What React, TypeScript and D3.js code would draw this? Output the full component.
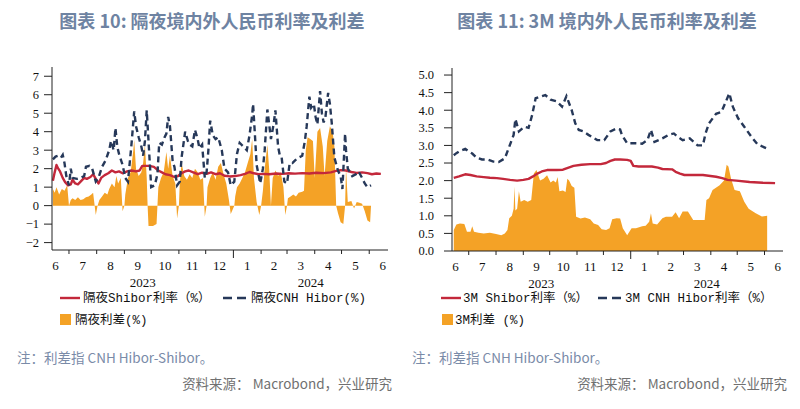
import React from 'react';
import * as d3 from 'd3';

type Pt = [string, number];

// ---------- Chart 10: overnight ----------
const onShibor: Pt[] = [
  ["2023-06-13",1.35],["2023-06-15",1.8],["2023-06-17",2.2],["2023-06-19",2.0],["2023-06-21",1.85],["2023-06-24",1.5],["2023-06-27",1.25],["2023-06-30",1.1],["2023-07-03",1.15],["2023-07-05",1.4],["2023-07-08",1.2],["2023-07-11",1.15],["2023-07-14",1.3],["2023-07-18",1.5],["2023-07-21",1.45],["2023-07-25",1.55],["2023-07-28",1.7],["2023-07-31",1.45],["2023-08-03",1.2],["2023-08-06",1.5],["2023-08-10",1.65],["2023-08-14",1.75],["2023-08-18",1.9],["2023-08-22",1.8],["2023-08-26",1.85],["2023-08-30",1.75],["2023-09-04",1.85],["2023-09-09",1.9],["2023-09-14",1.85],["2023-09-18",1.9],["2023-09-21",2.15],["2023-09-25",2.15],["2023-09-29",2.15],["2023-10-04",2.1],["2023-10-09",1.9],["2023-10-13",1.8],["2023-10-17",1.7],["2023-10-22",1.65],["2023-10-27",1.55],["2023-10-31",1.6],["2023-11-04",1.75],["2023-11-08",1.85],["2023-11-12",1.9],["2023-11-17",1.8],["2023-11-22",1.7],["2023-11-27",1.78],["2023-12-02",1.72],["2023-12-07",1.8],["2023-12-12",1.7],["2023-12-17",1.75],["2023-12-22",1.62],["2023-12-28",1.58],["2024-01-03",1.6],["2024-01-09",1.65],["2024-01-14",1.72],["2024-01-19",1.82],["2024-01-24",1.75],["2024-01-29",1.7],["2024-02-04",1.72],["2024-02-10",1.7],["2024-02-18",1.74],["2024-02-25",1.72],["2024-03-03",1.75],["2024-03-10",1.73],["2024-03-18",1.76],["2024-03-26",1.74],["2024-04-03",1.78],["2024-04-11",1.76],["2024-04-19",1.8],["2024-04-25",1.88],["2024-04-30",1.92],["2024-05-06",1.9],["2024-05-12",1.82],["2024-05-18",1.77],["2024-05-24",1.8],["2024-05-30",1.76],["2024-06-04",1.7],["2024-06-09",1.74],["2024-06-14",1.72]
];

const onHibor: Pt[] = [
  ["2023-06-13",2.5],["2023-06-16",2.65],["2023-06-19",2.7],["2023-06-22",2.6],["2023-06-24",2.75],["2023-06-26",2.3],["2023-06-28",1.6],["2023-07-01",1.1],["2023-07-03",2.0],["2023-07-05",1.5],["2023-07-10",1.45],["2023-07-14",1.5],["2023-07-18",1.6],["2023-07-20",2.1],["2023-07-24",2.15],["2023-07-27",2.0],["2023-07-31",1.3],["2023-08-03",1.5],["2023-08-07",2.1],["2023-08-11",2.45],["2023-08-15",3.0],["2023-08-17",3.5],["2023-08-20",3.0],["2023-08-22",4.2],["2023-08-24",3.2],["2023-08-26",2.8],["2023-08-30",2.2],["2023-09-02",1.5],["2023-09-05",1.3],["2023-09-09",3.35],["2023-09-12",5.1],["2023-09-14",4.3],["2023-09-17",3.7],["2023-09-20",3.2],["2023-09-22",2.7],["2023-09-24",3.5],["2023-09-26",5.15],["2023-09-28",3.5],["2023-10-01",1.0],["2023-10-05",1.1],["2023-10-08",1.7],["2023-10-10",3.4],["2023-10-13",3.3],["2023-10-16",3.7],["2023-10-18",3.9],["2023-10-20",4.8],["2023-10-22",4.3],["2023-10-25",2.4],["2023-10-27",2.1],["2023-10-30",1.1],["2023-11-02",1.3],["2023-11-04",2.6],["2023-11-08",4.0],["2023-11-11",3.5],["2023-11-13",3.3],["2023-11-16",3.2],["2023-11-19",4.1],["2023-11-22",3.6],["2023-11-24",3.1],["2023-11-27",3.3],["2023-11-30",1.5],["2023-12-02",1.8],["2023-12-04",3.0],["2023-12-06",4.6],["2023-12-09",3.8],["2023-12-12",3.6],["2023-12-15",3.7],["2023-12-19",3.0],["2023-12-22",2.0],["2023-12-26",1.8],["2023-12-29",1.1],["2024-01-02",1.3],["2024-01-05",2.8],["2024-01-08",3.4],["2024-01-12",3.2],["2024-01-16",3.0],["2024-01-19",3.8],["2024-01-22",4.9],["2024-01-23",5.5],["2024-01-25",3.9],["2024-01-27",2.2],["2024-01-31",1.2],["2024-02-03",2.0],["2024-02-05",3.0],["2024-02-08",5.2],["2024-02-10",4.4],["2024-02-12",3.6],["2024-02-15",4.4],["2024-02-17",5.15],["2024-02-20",3.2],["2024-02-22",2.7],["2024-02-24",2.6],["2024-02-27",1.3],["2024-03-01",1.2],["2024-03-04",2.3],["2024-03-07",2.3],["2024-03-10",2.45],["2024-03-14",2.6],["2024-03-18",2.7],["2024-03-21",3.5],["2024-03-23",4.3],["2024-03-26",5.9],["2024-03-28",5.3],["2024-03-31",5.5],["2024-04-02",4.8],["2024-04-04",4.4],["2024-04-07",6.2],["2024-04-09",5.0],["2024-04-11",4.5],["2024-04-13",4.8],["2024-04-16",6.1],["2024-04-18",5.5],["2024-04-20",4.5],["2024-04-23",2.6],["2024-04-27",1.9],["2024-04-30",1.6],["2024-05-02",0.9],["2024-05-05",3.9],["2024-05-06",3.0],["2024-05-08",2.0],["2024-05-13",1.6],["2024-05-17",1.7],["2024-05-20",1.85],["2024-05-24",1.5],["2024-05-27",1.2],["2024-05-30",1.0],["2024-06-03",1.1]
];

const onSpread: Pt[] = [
  ["2023-06-13",0.9],["2023-06-15",0.7],["2023-06-17",1.0],["2023-06-20",0.6],["2023-06-23",0.9],["2023-06-26",0.8],["2023-06-29",1.1],["2023-07-01",0.0],["2023-07-03",0.3],["2023-07-05",0.4],["2023-07-08",0.3],["2023-07-11",0.45],["2023-07-14",0.3],["2023-07-17",0.35],["2023-07-20",0.45],["2023-07-23",0.5],["2023-07-26",0.6],["2023-07-28",0.7],["2023-07-31",-0.5],["2023-08-02",0.0],["2023-08-04",0.3],["2023-08-07",0.5],["2023-08-10",0.7],["2023-08-13",0.6],["2023-08-15",0.9],["2023-08-18",1.2],["2023-08-21",1.0],["2023-08-23",1.6],["2023-08-25",1.2],["2023-08-28",1.5],["2023-08-30",-0.3],["2023-09-01",0.0],["2023-09-02",0.6],["2023-09-05",1.5],["2023-09-08",1.8],["2023-09-11",3.0],["2023-09-12",3.55],["2023-09-14",2.0],["2023-09-17",1.6],["2023-09-20",1.8],["2023-09-22",2.3],["2023-09-24",3.3],["2023-09-26",1.5],["2023-09-27",0.0],["2023-09-28",-1.1],["2023-10-03",-1.1],["2023-10-07",-1.0],["2023-10-08",0.0],["2023-10-09",1.0],["2023-10-12",1.5],["2023-10-15",1.8],["2023-10-18",2.9],["2023-10-20",2.0],["2023-10-22",2.7],["2023-10-25",1.6],["2023-10-28",1.2],["2023-10-30",-0.7],["2023-11-01",0.0],["2023-11-02",1.2],["2023-11-04",2.3],["2023-11-07",1.6],["2023-11-10",1.4],["2023-11-13",1.7],["2023-11-16",1.5],["2023-11-19",2.0],["2023-11-22",1.8],["2023-11-25",1.4],["2023-11-28",1.5],["2023-11-30",-0.6],["2023-12-02",0.0],["2023-12-03",1.0],["2023-12-06",1.5],["2023-12-09",1.8],["2023-12-12",1.4],["2023-12-15",2.1],["2023-12-18",2.3],["2023-12-21",1.7],["2023-12-24",1.2],["2023-12-27",0.3],["2023-12-29",-0.45],["2024-01-02",0.0],["2024-01-03",0.5],["2024-01-05",1.0],["2024-01-08",1.2],["2024-01-11",1.5],["2024-01-14",1.8],["2024-01-17",2.3],["2024-01-20",2.8],["2024-01-22",3.6],["2024-01-24",1.5],["2024-01-27",0.2],["2024-01-30",-0.5],["2024-02-01",0.0],["2024-02-03",0.8],["2024-02-05",2.0],["2024-02-08",3.3],["2024-02-10",2.0],["2024-02-12",0.0],["2024-02-14",1.5],["2024-02-17",1.9],["2024-02-20",1.6],["2024-02-23",1.8],["2024-02-26",1.0],["2024-02-28",-0.5],["2024-03-01",0.0],["2024-03-02",0.4],["2024-03-05",0.5],["2024-03-08",0.6],["2024-03-11",0.5],["2024-03-14",0.7],["2024-03-18",0.75],["2024-03-20",0.8],["2024-03-22",3.0],["2024-03-24",3.7],["2024-03-27",3.6],["2024-03-30",3.5],["2024-04-01",1.5],["2024-04-04",4.0],["2024-04-07",4.2],["2024-04-10",3.2],["2024-04-12",1.6],["2024-04-15",3.5],["2024-04-18",4.3],["2024-04-21",4.0],["2024-04-23",3.2],["2024-04-25",0.0],["2024-04-27",-0.4],["2024-04-30",-0.9],["2024-05-03",-1.0],["2024-05-05",0.0],["2024-05-06",2.1],["2024-05-08",0.2],["2024-05-12",0.25],["2024-05-15",-0.15],["2024-05-18",0.2],["2024-05-21",0.15],["2024-05-24",0.1],["2024-05-27",-0.3],["2024-05-30",-0.8],["2024-06-02",-0.9],["2024-06-03",0.0]
];

// ---------- Chart 11: 3M ----------
const m3Shibor: Pt[] = [
  ["2023-06-14",2.08],["2023-06-20",2.12],["2023-06-27",2.18],["2023-07-03",2.16],["2023-07-10",2.12],["2023-07-18",2.1],["2023-07-25",2.08],["2023-08-02",2.07],["2023-08-09",2.05],["2023-08-17",2.02],["2023-08-25",2.0],["2023-09-01",2.02],["2023-09-07",2.05],["2023-09-12",2.12],["2023-09-17",2.2],["2023-09-22",2.26],["2023-09-28",2.3],["2023-10-09",2.3],["2023-10-16",2.31],["2023-10-20",2.35],["2023-10-28",2.42],["2023-11-06",2.45],["2023-11-16",2.47],["2023-11-28",2.47],["2023-12-04",2.5],["2023-12-09",2.56],["2023-12-14",2.6],["2023-12-20",2.6],["2023-12-28",2.59],["2024-01-01",2.56],["2024-01-04",2.42],["2024-01-10",2.4],["2024-01-25",2.4],["2024-02-01",2.37],["2024-02-06",2.33],["2024-02-17",2.32],["2024-02-21",2.25],["2024-02-26",2.2],["2024-03-02",2.16],["2024-03-23",2.16],["2024-04-07",2.11],["2024-04-14",2.07],["2024-04-20",2.02],["2024-04-30",2.0],["2024-05-15",1.96],["2024-05-30",1.94],["2024-06-13",1.93]
];

const m3Hibor: Pt[] = [
  ["2023-06-14",2.72],["2023-06-17",2.78],["2023-06-21",2.84],["2023-06-27",2.9],["2023-07-01",2.83],["2023-07-05",2.77],["2023-07-10",2.65],["2023-07-16",2.6],["2023-07-22",2.6],["2023-07-29",2.54],["2023-08-04",2.53],["2023-08-11",2.63],["2023-08-16",2.96],["2023-08-21",3.3],["2023-08-23",3.75],["2023-08-27",3.4],["2023-09-02",3.53],["2023-09-07",3.5],["2023-09-11",3.86],["2023-09-15",4.34],["2023-09-20",4.38],["2023-09-26",4.43],["2023-10-02",4.3],["2023-10-09",4.25],["2023-10-15",4.1],["2023-10-20",4.4],["2023-10-26",4.0],["2023-10-30",3.63],["2023-11-03",3.44],["2023-11-08",3.4],["2023-11-14",3.3],["2023-11-24",3.15],["2023-12-02",3.15],["2023-12-09",3.4],["2023-12-16",3.48],["2023-12-20",3.45],["2023-12-22",3.3],["2023-12-28",3.06],["2024-01-07",3.06],["2024-01-14",3.05],["2024-01-20",3.15],["2024-01-24",3.44],["2024-01-28",3.1],["2024-02-06",3.2],["2024-02-13",3.3],["2024-02-19",3.34],["2024-02-23",3.25],["2024-02-29",3.15],["2024-03-08",3.2],["2024-03-17",3.0],["2024-03-23",3.0],["2024-03-26",3.34],["2024-03-30",3.63],["2024-04-07",3.9],["2024-04-13",3.95],["2024-04-18",4.24],["2024-04-22",4.48],["2024-04-26",4.1],["2024-05-02",3.77],["2024-05-09",3.53],["2024-05-17",3.25],["2024-05-24",3.03],["2024-06-03",2.92],["2024-06-05",2.9]
];

const m3Spread: Pt[] = [
  ["2023-06-14",0.6],["2023-06-17",0.75],["2023-06-21",0.78],["2023-06-26",0.77],["2023-06-29",0.55],["2023-07-03",0.55],["2023-07-05",0.7],["2023-07-07",0.55],["2023-07-12",0.52],["2023-07-18",0.5],["2023-07-25",0.52],["2023-08-01",0.48],["2023-08-07",0.45],["2023-08-11",0.5],["2023-08-14",0.6],["2023-08-16",0.93],["2023-08-19",1.0],["2023-08-21",1.2],["2023-08-22",1.83],["2023-08-23",1.15],["2023-08-25",1.2],["2023-08-27",1.7],["2023-08-29",1.4],["2023-09-02",1.45],["2023-09-06",1.4],["2023-09-10",1.45],["2023-09-13",2.2],["2023-09-16",2.3],["2023-09-18",2.15],["2023-09-20",2.0],["2023-09-24",2.05],["2023-09-28",2.15],["2023-10-02",1.95],["2023-10-05",2.0],["2023-10-08",1.95],["2023-10-10",2.1],["2023-10-12",1.7],["2023-10-16",1.72],["2023-10-19",1.68],["2023-10-21",2.05],["2023-10-23",2.0],["2023-10-26",1.85],["2023-10-29",1.8],["2023-10-31",0.97],["2023-11-05",0.92],["2023-11-10",0.95],["2023-11-16",0.9],["2023-11-20",0.78],["2023-11-25",0.74],["2023-11-29",0.62],["2023-12-04",0.6],["2023-12-08",0.65],["2023-12-11",0.9],["2023-12-16",0.93],["2023-12-20",0.92],["2023-12-23",0.65],["2023-12-28",0.45],["2024-01-02",0.65],["2024-01-07",0.65],["2024-01-14",0.7],["2024-01-18",0.72],["2024-01-22",0.83],["2024-01-24",1.07],["2024-01-26",0.78],["2024-01-31",0.75],["2024-02-06",0.93],["2024-02-10",0.97],["2024-02-17",0.97],["2024-02-21",1.1],["2024-02-25",0.93],["2024-02-29",1.12],["2024-03-06",1.12],["2024-03-12",0.88],["2024-03-20",0.88],["2024-03-25",0.88],["2024-03-27",1.45],["2024-03-30",1.5],["2024-04-03",1.73],["2024-04-11",1.87],["2024-04-16",2.0],["2024-04-19",2.45],["2024-04-21",2.4],["2024-04-24",2.05],["2024-04-28",1.73],["2024-05-04",1.7],["2024-05-09",1.4],["2024-05-14",1.2],["2024-05-22",1.07],["2024-05-29",0.98],["2024-06-04",1.0]
];

const onYTicks = [-2, -1, 0, 1, 2, 3, 4, 5, 6, 7];
const m3YTicks = [0, 0.5, 1, 1.5, 2, 2.5, 3, 3.5, 4, 4.5, 5];
const yearLabels = ["2023", "2024"];

const RED = '#c3283b';
const NAVY = '#263859';
const ORANGE = '#f4a226';
const TITLE = '#6e83a2';
const NOTE = '#7a8ba8';
const SRC = '#707070';

const parse = d3.timeParse('%Y-%m-%d');
const DOMAIN: [Date, Date] = [new Date(2023, 5, 12), new Date(2024, 5, 22)];
type D = { date: Date; v: number };
const toPts = (a: Pt[]): D[] => a.map(([d, v]) => ({ date: parse(d) as Date, v }));

const LEG_FONT = '"Liberation Mono", "Noto Sans CJK SC", monospace';
const AX_FONT = '"Liberation Serif", "DejaVu Serif", serif';
const CJK = '"Noto Sans CJK SC", "Noto Sans", sans-serif';

interface PanelProps {
  id: string;
  x0: number; x1: number; yTop: number; yBot: number;
  yDomain: [number, number]; yTicks: number[]; fmt: (n: number) => string; labelEnd: number;
  shibor: Pt[]; hibor: Pt[]; spread: Pt[];
}

function Panel(p: PanelProps) {
  const x = d3.scaleTime().domain(DOMAIN).range([p.x0, p.x1]);
  const y = d3.scaleLinear().domain(p.yDomain).range([p.yBot, p.yTop]);
  const area = d3.area<D>().x(d => x(d.date)).y0(y(0)).y1(d => y(d.v));
  const line = d3.line<D>().x(d => x(d.date)).y(d => y(d.v));
  const months = d3.timeMonth.range(new Date(2023, 5, 1), new Date(2024, 6, 1));
  const ticks = d3.timeMonth.range(DOMAIN[0], DOMAIN[1]);
  const jan = new Date(2024, 0, 1);
  const yearPos = [(x(DOMAIN[0]) + x(jan)) / 2, (x(jan) + x(DOMAIN[1])) / 2];
  const monthY = p.yBot + 20;
  const yearY = p.yBot + 37;
  return (
    <g>
      <path d={area(toPts(p.spread)) || ''} fill={ORANGE} />
      <path d={line(toPts(p.shibor)) || ''} fill="none" stroke={RED} strokeWidth={2.4} strokeLinejoin="round" />
      <path d={line(toPts(p.hibor)) || ''} fill="none" stroke={NAVY} strokeWidth={2.4} strokeDasharray="6,4" />
      <line x1={p.x0} x2={p.x0} y1={p.yTop} y2={p.yBot} stroke="#222" strokeWidth={1} />
      <line x1={p.x0} x2={p.x1} y1={p.yBot} y2={p.yBot} stroke="#222" strokeWidth={1} />
      {p.yTicks.map(t => (
        <g key={p.id + 'y' + t}>
          <line x1={p.x0 - 8} x2={p.x0} y1={y(t)} y2={y(t)} stroke="#222" strokeWidth={1} />
          <text x={p.labelEnd} y={y(t)} dy="0.35em" textAnchor="end" fontFamily={AX_FONT} fontSize={12.5} fill="#111">{p.fmt(t)}</text>
        </g>
      ))}
      {ticks.map(t => (
        <line key={p.id + 't' + (+t)} x1={x(t)} x2={x(t)} y1={p.yBot} y2={p.yBot + (+t === +jan ? 8 : 4)} stroke="#222" strokeWidth={1} />
      ))}
      {months.map(m => {
        const mid = new Date((+m + +d3.timeMonth.offset(m, 1)) / 2);
        return <text key={p.id + 'm' + (+m)} x={x(mid)} y={monthY} textAnchor="middle" fontFamily={AX_FONT} fontSize={13} fill="#111">{m.getMonth() + 1}</text>;
      })}
      {yearLabels.map((yl, i) => (
        <text key={p.id + 'yr' + yl} x={yearPos[i]} y={yearY} textAnchor="middle" fontFamily={AX_FONT} fontSize={13} fill="#111">{yl}</text>
      ))}
    </g>
  );
}

export default function App() {
  return (
    <svg width={800} height={409} style={{ position: 'absolute', left: 0, top: 0, background: '#fff' }}>
      <rect width={800} height={409} fill="#fff" />
      <text x={212} y={28} textAnchor="middle" fontFamily={CJK} fontWeight={700} fontSize={18} fill={TITLE}>图表 10: 隔夜境内外人民币利率及利差</text>
      <text x={607} y={28} textAnchor="middle" fontFamily={CJK} fontWeight={700} fontSize={18} fill={TITLE}>图表 11: 3M 境内外人民币利率及利差</text>

      <Panel id="L" x0={52} x1={388} yTop={67} yBot={250} yDomain={[-2.4, 7.5]} yTicks={onYTicks} fmt={d3.format('d')} labelEnd={39}
        shibor={onShibor} hibor={onHibor} spread={onSpread} />
      <Panel id="R" x0={452} x1={783} yTop={68} yBot={251} yDomain={[0, 5.2]} yTicks={m3YTicks} fmt={d3.format('.1f')} labelEnd={434}
        shibor={m3Shibor} hibor={m3Hibor} spread={m3Spread} />

      {/* left legend */}
      <line x1={60} x2={80} y1={298} y2={298} stroke={RED} strokeWidth={2.4} />
      <text x={83} y={302} fontFamily={LEG_FONT} fontSize={12.5} fill="#111">隔夜Shibor利率（%）</text>
      <line x1={223} x2={246} y1={298} y2={298} stroke={NAVY} strokeWidth={2.4} strokeDasharray="9,5" />
      <text x={251} y={302} fontFamily={LEG_FONT} fontSize={12.5} fill="#111">隔夜CNH Hibor(%)</text>
      <rect x={60} y={314} width={11} height={11} fill={ORANGE} />
      <text x={75} y={324} fontFamily={LEG_FONT} fontSize={12.5} fill="#111">隔夜利差(%)</text>

      {/* right legend */}
      <line x1={441} x2={461} y1={298} y2={298} stroke={RED} strokeWidth={2.4} />
      <text x={463} y={302} fontFamily={LEG_FONT} fontSize={12.5} fill="#111">3M Shibor利率（%）</text>
      <line x1={598} x2={621} y1={298} y2={298} stroke={NAVY} strokeWidth={2.4} strokeDasharray="9,5" />
      <text x={625} y={302} fontFamily={LEG_FONT} fontSize={12.5} fill="#111">3M CNH Hibor利率（%）</text>
      <rect x={442} y={314} width={11} height={11} fill={ORANGE} />
      <text x={455} y={324} fontFamily={LEG_FONT} fontSize={12.5} fill="#111">3M利差 (%)</text>

      {/* notes */}
      <text x={17} y={363} fontFamily={CJK} fontSize={13.5} fill={NOTE}>注：利差指 CNH Hibor-Shibor。</text>
      <text x={412} y={363} fontFamily={CJK} fontSize={13.5} fill={NOTE}>注：利差指 CNH Hibor-Shibor。</text>
      <text x={392} y={389} textAnchor="end" fontFamily={CJK} fontSize={13.5} fill={SRC}>资料来源： Macrobond，兴业研究</text>
      <text x={787} y={389} textAnchor="end" fontFamily={CJK} fontSize={13.5} fill={SRC}>资料来源： Macrobond，兴业研究</text>
    </svg>
  );
}
